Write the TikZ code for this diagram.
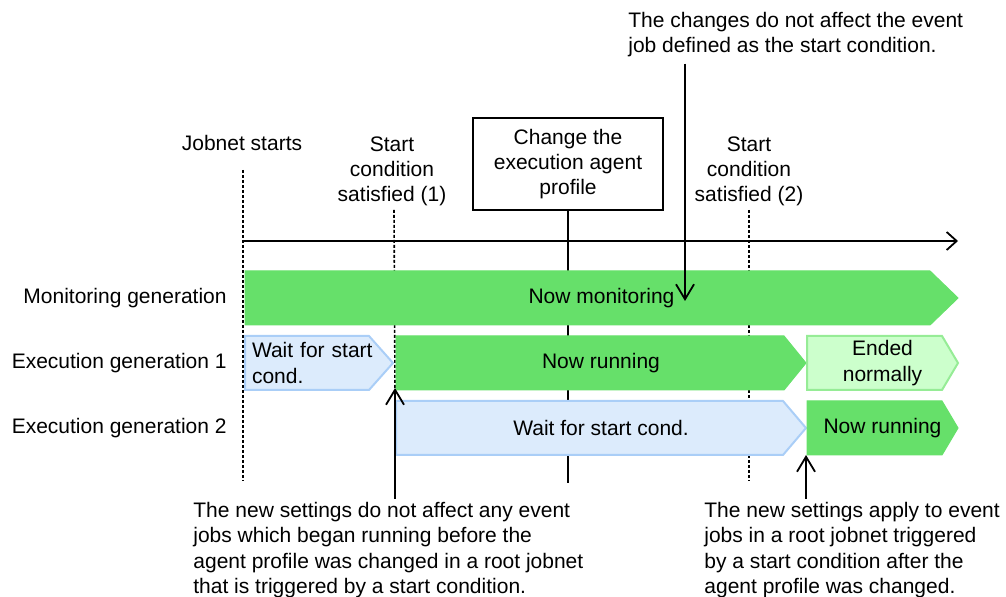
\documentclass[tikz,border=0pt]{standalone}
\usepackage{fontspec}
\setmainfont{Liberation Sans}
\usetikzlibrary{arrows.meta,calc}
\definecolor{runGreen}{RGB}{102,224,106}
\definecolor{waitBlue}{RGB}{220,235,252}
\definecolor{waitEdge}{RGB}{170,206,247}
\definecolor{endGreen}{RGB}{204,255,204}
\definecolor{endEdge}{RGB}{150,236,150}
\tikzset{
  lbl/.style={inner sep=0pt, font=\fontsize{10.5}{12.6}\selectfont},
  runbar/.style={fill=runGreen, draw=runGreen, line width=0.5pt},
  waitbar/.style={fill=waitBlue, draw=waitEdge, line width=1pt},
  endbar/.style={fill=endGreen, draw=endEdge, line width=1pt},
  dotline/.style={line width=0.8pt, dash pattern=on 1.5pt off 1pt},
  solidline/.style={line width=0.9pt},
  axisline/.style={line width=0.9pt, -{Straight Barb[length=5pt,width=9pt]}},
  callout/.style={line width=0.9pt, -{Straight Barb[length=7.5pt,width=9pt]}}
}
\newcommand{\genbar}[8][]{% pointed bar: [text opts] name, style, left, flat end, tip, mid y, text
  \draw[#3] (#4,#7-27) -- (#5,#7-27) -- (#6,#7) -- (#5,#7+27) -- (#4,#7+27) -- cycle;
  \node[lbl,#1] (#2) at ({(#4+#6)/2},#7) {#8};
}

\begin{document}
\begin{tikzpicture}[x=0.5pt,y=-0.5pt]
  \useasboundingbox (0,0) rectangle (1006,597);
  % time points on the axis
  \coordinate (t0) at (243,241);
  \coordinate (t1) at (394,241);
  \coordinate (t2) at (568,241);
  \coordinate (t3) at (749,241);
  \coordinate (tEnd) at (958,241);
  % labels above the axis
  \node[lbl, anchor=base] (jobStart) at (242,151) {Jobnet starts};
  \node[lbl, anchor=north, align=center] (condOne) at (392,136) {Start\\condition\\satisfied (1)};
  \node[lbl, anchor=north, align=center] (condTwo) at (749,136) {Start\\condition\\satisfied (2)};
  \node[lbl, draw, line width=0.9pt, minimum width=95pt, minimum height=46pt, align=center] (change) at (568,164) {Change the\\execution agent\\profile};
  \node[lbl, anchor=north west, align=left] (noteTop) at (628,12) {The changes do not affect the event\\job defined as the start condition.};
  \draw[axisline] (t0) -- (tEnd);
  % guide lines
  \draw[dotline] (t0 |- 0,170) -- (t0 |- 0,481);
  \draw[dotline] (t3 |- 0,210) -- (t3 |- 0,481);
  \draw[solidline] (change.south) -- (t2 |- 0,483);
  \coordinate (hitOne) at (395,388);
  \draw[dotline] (t1 |- 0,210) -- (hitOne);
  % generations
  \node[lbl, anchor=east] (rowMon) at (227,298) {Monitoring generation};
  \node[lbl, anchor=east] (rowOne) at (227,363) {Execution generation 1};
  \node[lbl, anchor=east] (rowTwo) at (227,428) {Execution generation 2};
  \genbar{monGen}{runbar}{245}{930}{958}{298}{Now monitoring}
  \genbar[align=left, text width=67pt]{waitOne}{waitbar}{245}{369}{393}{363}{Wait for start\\cond.}
  \genbar{runOne}{runbar}{396}{784}{806}{363}{Now running}
  \genbar[align=center]{endOne}{endbar}{807}{942}{958}{363}{Ended\\normally}
  \genbar{waitTwo}{waitbar}{396}{783}{806}{428}{Wait for start cond.}
  \genbar{runTwo}{runbar}{807}{942}{958}{428}{Now running}
  % notes below
  \node[lbl, anchor=north west, align=left] (noteOld) at (193,502) {The new settings do not affect any event\\jobs which began running before the\\agent profile was changed in a root jobnet\\that is triggered by a start condition.};
  \node[lbl, anchor=north west, align=left] (noteNew) at (704,502) {The new settings apply to event\\jobs in a root jobnet triggered\\by a start condition after the\\agent profile was changed.};
  \coordinate (hitMon) at (685,301);
  \coordinate (hitTwo) at (806,455);
  \draw[callout, shorten <=3pt] (noteTop.south -| hitMon) -- (hitMon);
  \draw[callout] ($(noteOld.north -| hitOne)+(0,-3)$) -- (hitOne);
  \draw[callout] ($(noteNew.north -| hitTwo)+(0,-3)$) -- (hitTwo);
\end{tikzpicture}
\end{document}
